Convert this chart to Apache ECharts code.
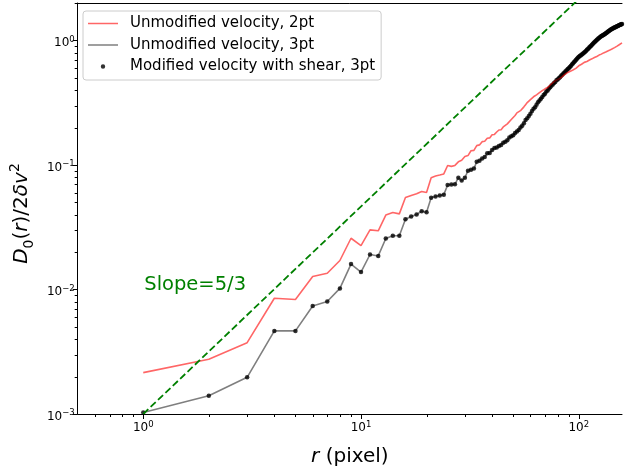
<!DOCTYPE html>
<html><head><meta charset="utf-8">
<script src="https://cdn.jsdelivr.net/npm/echarts@6/dist/echarts.min.js"></script>
<style>html,body{margin:0;padding:0;background:#fff}#c{width:625px;height:472px}</style>
</head><body><div id="c"></div>
<script>
const rPixel = [1,2,3,4,5,6,7,8,9,10,11,12,13,14,15,16,17,18,19,20,21,22,23,24,25,26,27,28,29,30,31,32,33,34,35,36,37,38,39,40,41,42,43,44,45,46,47,48,49,50,51,52,53,54,55,56,57,58,59,60,61,62,63,64,65,66,67,68,69,70,71,72,73,74,75,76,77,78,79,80,81,82,83,84,85,86,87,88,89,90,91,92,93,94,95,96,97,98,99,100,101,102,103,104,105,106,107,108,109,110,111,112,113,114,115,116,117,118,119,120,121,122,123,124,125,126,127,128,129,130,131,132,133,134,135,136,137,138,139,140,141,142,143,144,145,146,147,148,149,150,151,152,153,154,155,156,157,158];

const unmod2pt = [0.00215,0.00275,0.00374,0.00850,0.00832,0.0127,0.0135,0.0171,0.0258,0.0225,
0.0301,0.0296,0.0396,0.0415,0.0405,0.0548,0.0569,0.0587,0.0612,0.0601,
0.0790,0.0815,0.0830,0.0848,0.0990,0.0975,0.0992,0.1060,0.1090,0.1170,
0.1190,0.1300,0.1310,0.1430,0.1450,0.1540,0.1550,0.1640,0.1650,0.1750,
0.1760,0.1840,0.1910,0.1920,0.2020,0.2080,0.2140,0.2210,0.2320,0.2380,
0.2500,0.2620,0.2690,0.2730,0.2780,0.2930,0.3050,0.3170,0.3220,0.3350,
0.3390,0.3530,0.3570,0.3660,0.3740,0.3810,0.3890,0.3960,0.3990,0.4090,
0.4110,0.4190,0.4290,0.4390,0.4450,0.4560,0.4650,0.4730,0.4790,0.4870,
0.4910,0.4980,0.5010,0.5130,0.5210,0.5310,0.5370,0.5470,0.5510,0.5590,
0.5610,0.5690,0.5720,0.5790,0.5810,0.5910,0.5970,0.6080,0.6140,0.6260,
0.6310,0.6390,0.6440,0.6530,0.6590,0.6670,0.6690,0.6760,0.6780,0.6850,
0.6890,0.6970,0.7010,0.7090,0.7120,0.7190,0.7210,0.7290,0.7330,0.7410,
0.7440,0.7520,0.7560,0.7630,0.7670,0.7740,0.7770,0.7840,0.7880,0.7950,
0.7980,0.8050,0.8080,0.8150,0.8160,0.8230,0.8270,0.8340,0.8370,0.8440,
0.8470,0.8540,0.8570,0.8650,0.8690,0.8770,0.8810,0.8890,0.8930,0.9010,
0.9060,0.9150,0.9200,0.9290,0.9340,0.9430,0.9470,0.9560];

const unmod3pt = [0.00103,0.00140,0.00197,0.00465,0.00465,0.00738,0.00800,0.0102,0.0160,0.0138,
0.0191,0.0186,0.0257,0.0270,0.0270,0.0367,0.0386,0.0400,0.0426,0.0418,
0.0545,0.0558,0.0570,0.0578,0.0690,0.0698,0.0700,0.0790,0.0750,0.0790,
0.0900,0.0915,0.0935,0.1060,0.1080,0.1130,0.1160,0.1240,0.1250,0.1320,
0.1370,0.1380,0.1420,0.1450,0.1510,0.1540,0.1580,0.1660,0.1700,0.1730,
0.1810,0.1860,0.1910,0.2000,0.2070,0.2160,0.2300,0.2370,0.2470,0.2580,
0.2710,0.2830,0.2910,0.3050,0.3190,0.3290,0.3410,0.3510,0.3650,0.3740,
0.3890,0.3970,0.4110,0.4210,0.4350,0.4440,0.4560,0.4650,0.4790,0.4860,
0.4980,0.5070,0.5210,0.5310,0.5440,0.5520,0.5660,0.5760,0.5910,0.5990,
0.6130,0.6240,0.6410,0.6540,0.6690,0.6820,0.6980,0.7110,0.7260,0.7370,
0.7490,0.7560,0.7680,0.7770,0.7910,0.7990,0.8130,0.8250,0.8410,0.8520,
0.8680,0.8810,0.8960,0.9090,0.9260,0.9390,0.9560,0.9670,0.9830,0.9950,
1.011,1.021,1.036,1.047,1.061,1.071,1.084,1.091,1.102,1.109,
1.121,1.129,1.141,1.149,1.163,1.174,1.188,1.197,1.211,1.219,
1.229,1.235,1.246,1.252,1.263,1.269,1.278,1.284,1.293,1.299,
1.308,1.314,1.323,1.329,1.339,1.344,1.353,1.359];

// modified velocity with shear coincides with the unmodified 3pt curve in the picture
const shear3pt = unmod3pt;

const slopeR = [1, 100];
const slopeD = [0.001, 2.154];
const slopeLabelPos = [1, 0.01];
const slopeLabelText = 'Slope=5/3';

const xMajorTicks = [1, 10, 100];
const xMinorTicks = [0.6,0.7,0.8,0.9,2,3,4,5,6,7,8,9,20,30,40,50,60,70,80,90];
const yMajorTicks = [0.001, 0.01, 0.1, 1];
const yMinorTicks = [0.002,0.003,0.004,0.005,0.006,0.007,0.008,0.009,
  0.02,0.03,0.04,0.05,0.06,0.07,0.08,0.09,0.2,0.3,0.4,0.5,0.6,0.7,0.8,0.9,2];

const X_MIN = 0.5, X_MAX = 158, Y_MIN = 0.001, Y_MAX = 2;
const FONT = 'DejaVu Sans';

const chart = echarts.init(document.getElementById('c'), null, {renderer: 'canvas'});

function powLabel(v) {
  const l = Math.log10(v);
  const e = Math.round(l);
  if (Math.abs(l - e) > 1e-6) return '';
  return '{b|10}{s|' + (e < 0 ? '\u2212' + (-e) : String(e)) + '}';
}
const tickRich = {
  b: {fontFamily: FONT, fontSize: 12, color: '#000', lineHeight: 16},
  s: {fontFamily: FONT, fontSize: 8.5, color: '#000', lineHeight: 9, verticalAlign: 'top'}
};

function tickSeries(values, axis, len) {
  return {
    type: 'custom', silent: true, clip: false, z: 10,
    data: values.map(v => axis === 'x' ? [v, Y_MIN] : [X_MIN, v]),
    encode: {x: 0, y: 1},
    renderItem: function (params, api) {
      const p = api.coord([api.value(0), api.value(1)]);
      let shape;
      if (axis === 'x') {
        const x = Math.round(p[0]) + 0.5;
        shape = {x1: x, y1: p[1], x2: x, y2: p[1] + len};
      } else {
        const y = Math.round(p[1]) + 0.5;
        shape = {x1: p[0] - len, y1: y, x2: p[0], y2: y};
      }
      return {type: 'line', shape: shape, style: {stroke: '#000', lineWidth: 1}};
    }
  };
}

const dotIcon = 'path://M0,0M30,0M30,14M0,14M12.8,7A2.2,2.2,0,1,1,17.2,7A2.2,2.2,0,1,1,12.8,7Z';
const lineIcon = 'path://M0,0M30,14M0,6.25L30,6.25L30,7.75L0,7.75Z';

const option = {
  animation: false,
  backgroundColor: '#ffffff',
  grid: {left: 76, right: 0, top: 3, bottom: 58, containLabel: false},
  xAxis: [{
    type: 'log', logBase: 10, min: X_MIN, max: X_MAX,
    axisLine: {show: true, lineStyle: {color: '#000', width: 1}},
    axisTick: {show: false}, splitLine: {show: false}, minorTick: {show: false},
    axisLabel: {show: true, margin: 6, formatter: powLabel, rich: tickRich, showMinLabel: true, showMaxLabel: true},
    name: '{i|r} (pixel)', nameLocation: 'middle', nameGap: 33,
    nameTextStyle: {fontFamily: FONT, fontSize: 20, color: '#000',
      rich: {i: {fontFamily: FONT, fontSize: 20, fontStyle: 'italic', color: '#000'}}}
  }, {
    type: 'log', logBase: 10, min: X_MIN, max: X_MAX, position: 'top',
    axisLine: {show: true, lineStyle: {color: '#000', width: 1}},
    axisTick: {show: false}, axisLabel: {show: false}, splitLine: {show: false}
  }],
  yAxis: {
    type: 'log', logBase: 10, min: Y_MIN, max: Y_MAX,
    axisLine: {show: true, lineStyle: {color: '#000', width: 1}},
    axisTick: {show: false}, splitLine: {show: false}, minorTick: {show: false},
    axisLabel: {show: true, margin: 3, formatter: powLabel, rich: tickRich, padding: [5, 0, 0, 0]},
    name: '{i|D}{sub|0}{n|(}{i|r}{n|)/2}{i|\u03B4v}{sup|2}',
    nameLocation: 'middle', nameGap: 41, nameRotate: 90,
    nameTextStyle: {
      fontFamily: FONT, fontSize: 20, color: '#000', padding: [0, 10, 0, 0],
      rich: {
        i: {fontFamily: FONT, fontSize: 20, fontStyle: 'italic', color: '#000', lineHeight: 28},
        n: {fontFamily: FONT, fontSize: 20, color: '#000', lineHeight: 28},
        sub: {fontFamily: FONT, fontSize: 14, color: '#000', lineHeight: 16, verticalAlign: 'bottom'},
        sup: {fontFamily: FONT, fontSize: 14, color: '#000', lineHeight: 14, verticalAlign: 'top'}
      }
    }
  },
  legend: {
    orient: 'vertical', left: 83, top: 11,
    padding: [5, 6, 6, 5],
    itemWidth: 30, itemHeight: 14, itemGap: 6.5,
    backgroundColor: 'rgba(255,255,255,0.8)', borderColor: '#cccccc', borderWidth: 1, borderRadius: 3,
    textStyle: {fontFamily: FONT, fontSize: 15, color: '#000', lineHeight: 15, padding: [0, 0, 0, 7]},
    data: [
      {name: 'Unmodified velocity, 2pt', icon: lineIcon},
      {name: 'Unmodified velocity, 3pt', icon: lineIcon},
      {name: 'Modified velocity with shear, 3pt', icon: dotIcon}
    ]
  },
  series: [
    {
      name: 'Unmodified velocity, 2pt', type: 'line', symbol: 'none', showSymbol: false,
      data: rPixel.map((r, i) => [r, unmod2pt[i]]),
      lineStyle: {color: 'rgba(255,0,0,0.6)', width: 1.6},
      itemStyle: {color: 'rgba(255,0,0,0.6)'}
    },
    {
      name: 'Unmodified velocity, 3pt', type: 'line', symbol: 'none', showSymbol: false,
      data: rPixel.map((r, i) => [r, unmod3pt[i]]),
      lineStyle: {color: 'rgba(0,0,0,0.5)', width: 1.6},
      itemStyle: {color: 'rgba(0,0,0,0.5)'}
    },
    {
      name: 'Modified velocity with shear, 3pt', type: 'scatter', symbol: 'circle', symbolSize: 4.5,
      data: rPixel.map((r, i) => [r, shear3pt[i]]),
      itemStyle: {color: '#000'}
    },
    {
      name: 'slope', type: 'line', symbol: 'none', showSymbol: false,
      data: slopeR.map((r, i) => [r, slopeD[i]]),
      lineStyle: {color: '#008000', width: 1.8, type: [7, 3.2]}
    },
    {
      name: 'slopeText', type: 'custom', silent: true, clip: false, z: 5,
      data: [slopeLabelPos],
      encode: {x: 0, y: 1},
      renderItem: function (params, api) {
        const p = api.coord([api.value(0), api.value(1)]);
        return {
          type: 'text', x: p[0] + 1, y: p[1] + 5,
          style: {text: slopeLabelText, fill: '#008000', fontFamily: FONT, fontSize: 19.5,
            align: 'left', verticalAlign: 'bottom'}
        };
      }
    },
    tickSeries(xMajorTicks, 'x', 5),
    tickSeries(xMinorTicks, 'x', 3),
    tickSeries(yMajorTicks, 'y', 5),
    tickSeries(yMinorTicks, 'y', 3)
  ]
};
chart.setOption(option);
</script>
</body></html>
